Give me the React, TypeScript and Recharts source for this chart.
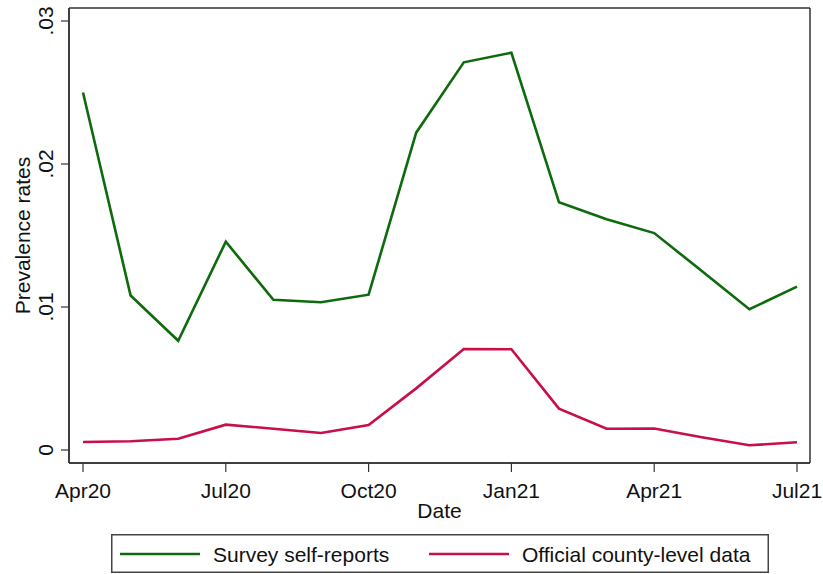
import React from "react";
import { LineChart, Line, XAxis, YAxis, Legend, CartesianGrid } from "recharts";

// monthly points Apr20 .. Jul21
const MONTHS = [
  "Apr20", "May20", "Jun20", "Jul20", "Aug20", "Sep20", "Oct20", "Nov20",
  "Dec20", "Jan21", "Feb21", "Mar21", "Apr21", "May21", "Jun21", "Jul21",
];
const SURVEY = [
  0.025, 0.0108, 0.00764, 0.01457, 0.0105, 0.01033, 0.01086, 0.02219,
  0.02711, 0.02778, 0.01732, 0.01613, 0.01517, 0.01252, 0.00984, 0.01142,
];
const OFFICIAL = [
  0.00056, 0.00061, 0.00079, 0.00177, 0.00149, 0.00119, 0.00175, 0.00431,
  0.00706, 0.00705, 0.00289, 0.00149, 0.0015, 0.00089, 0.00033, 0.00054,
];
const SERIES_NAMES = ["Survey self-reports", "Official county-level data"];
const X_TICKS = [0, 3, 6, 9, 12, 15];
const Y_TICKS = [0, 0.01, 0.02, 0.03];
const Y_TICK_LABELS = ["0", ".01", ".02", ".03"];

const GREEN = "#0d6b0d";
const RED = "#c80f48";
const AXIS = "#333333";
const FONT = "'Liberation Sans', Arial, sans-serif";

const data = MONTHS.map((m, i) => ({
  idx: i,
  month: m,
  survey: SURVEY[i],
  official: OFFICIAL[i],
}));

function XTick({ x, y, payload }: any) {
  return (
    <text x={x} y={y + 24} textAnchor="middle" fontSize={21} fontFamily={FONT} fill="#111">
      {MONTHS[payload.value]}
    </text>
  );
}

function YTick({ x, y, payload }: any) {
  const i = Y_TICKS.indexOf(payload.value);
  const tx = x - 6;
  return (
    <text
      x={tx}
      y={y}
      textAnchor="middle"
      transform={`rotate(-90, ${tx}, ${y})`}
      fontSize={21}
      fontFamily={FONT}
      fill="#111"
    >
      {Y_TICK_LABELS[i]}
    </text>
  );
}

function YLabel({ viewBox }: any) {
  const cx = 30;
  const cy = viewBox.y + viewBox.height / 2;
  return (
    <text
      x={cx}
      y={cy}
      textAnchor="middle"
      transform={`rotate(-90, ${cx}, ${cy})`}
      fontSize={21}
      fontFamily={FONT}
      fill="#111"
    >
      Prevalence rates
    </text>
  );
}

function XLabel({ viewBox }: any) {
  return (
    <text
      x={viewBox.x + viewBox.width / 2}
      y={viewBox.y + 55}
      textAnchor="middle"
      fontSize={21}
      fontFamily={FONT}
      fill="#111"
    >
      Date
    </text>
  );
}

function LegendBox({ payload }: any) {
  const items = SERIES_NAMES.map((n) => (payload || []).find((p: any) => p.value === n)).filter(Boolean);
  const starts = [9, 318];
  return (
    <svg width={658} height={39} style={{ display: "block" }}>
      <rect x={0.75} y={0.75} width={656.5} height={37.5} fill="#fff" stroke="#444" strokeWidth={1.5} />
      {items.map((it: any, i: number) => (
        <g key={it.value}>
          <line x1={starts[i]} x2={starts[i] + 80} y1={20} y2={20} stroke={it.color} strokeWidth={2.5} />
          <text x={starts[i] + 93} y={27.5} fontSize={21} fontFamily={FONT} fill="#111">
            {it.value}
          </text>
        </g>
      ))}
    </svg>
  );
}

export default function App() {
  return (
    <div style={{ position: "absolute", left: 0, top: 0, width: 823, height: 574, background: "#fff" }}>
      <LineChart width={823} height={574} data={data} margin={{ top: 8, right: 13, left: 0, bottom: 0 }}>
        <CartesianGrid
          stroke={AXIS}
          strokeWidth={1.5}
          fill="none"
          horizontalCoordinatesGenerator={({ offset }: any) => [offset.top, offset.top + offset.height]}
          verticalCoordinatesGenerator={({ offset }: any) => [offset.left, offset.left + offset.width]}
        />
        <XAxis
          dataKey="idx"
          type="number"
          domain={[0, 15]}
          ticks={X_TICKS}
          padding={{ left: 14, right: 13 }}
          height={111}
          tick={<XTick />}
          tickSize={9}
          tickLine={{ stroke: AXIS, strokeWidth: 1.2 }}
          axisLine={{ stroke: AXIS, strokeWidth: 1.5 }}
          label={{ content: <XLabel /> }}
        />
        <YAxis
          type="number"
          domain={[0, 0.03]}
          ticks={Y_TICKS}
          padding={{ top: 13, bottom: 13 }}
          width={69}
          tick={<YTick />}
          tickSize={8}
          tickLine={{ stroke: AXIS, strokeWidth: 1.2 }}
          axisLine={{ stroke: AXIS, strokeWidth: 1.5 }}
          label={{ content: <YLabel /> }}
        />
        <Legend
          layout="horizontal"
          verticalAlign="middle"
          align="center"
          wrapperStyle={{ position: "absolute", left: 111, top: 534, width: 658, height: 39 }}
          content={<LegendBox />}
        />
        <Line
          type="linear"
          dataKey="survey"
          name={SERIES_NAMES[0]}
          stroke={GREEN}
          strokeWidth={2.6}
          dot={false}
          isAnimationActive={false}
        />
        <Line
          type="linear"
          dataKey="official"
          name={SERIES_NAMES[1]}
          stroke={RED}
          strokeWidth={2.6}
          dot={false}
          isAnimationActive={false}
        />
      </LineChart>
    </div>
  );
}
